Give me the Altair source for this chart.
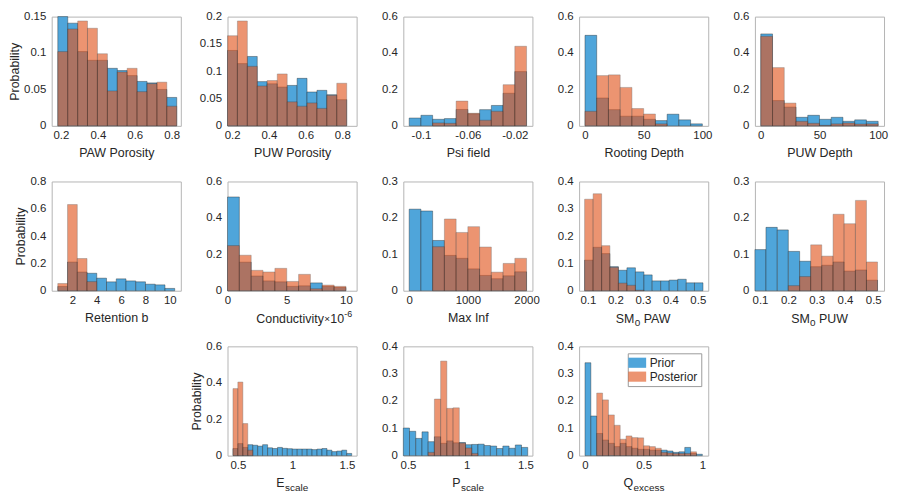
import altair as alt
import pandas as pd

FONTE = "Liberation Sans, Arial, Helvetica, sans-serif"
COR_TEXTO = "#262626"
COR_EIXO = "#b4b4b4"
LARGURA = 130
ALTURA = 110

series = ["Prior", "Posterior"]
cores = ["#4fa5da", "#e2561f"]
opacidades = [1.0, 0.63]

# PAW Porosity
paw_bordas = [0.183, 0.237, 0.291, 0.344, 0.398, 0.452, 0.506, 0.559, 0.613, 0.667, 0.721, 0.774, 0.828]
paw_prior = [0.150, 0.141, 0.102, 0.090, 0.090, 0.079, 0.076, 0.069, 0.061, 0.059, 0.050, 0.039]
paw_post = [0.102, 0.133, 0.144, 0.134, 0.099, 0.048, 0.074, 0.079, 0.047, 0.058, 0.060, 0.027]

# PUW Porosity
puw_bordas = [0.175, 0.229, 0.283, 0.337, 0.391, 0.446, 0.500, 0.554, 0.608, 0.662, 0.716, 0.770, 0.824]
puw_prior = [0.138, 0.114, 0.127, 0.081, 0.077, 0.071, 0.074, 0.087, 0.062, 0.065, 0.057, 0.048]
puw_post = [0.165, 0.192, 0.109, 0.073, 0.083, 0.095, 0.044, 0.036, 0.042, 0.032, 0.056, 0.078]

# Psi field
psi_bordas = [-0.11, -0.10, -0.09, -0.08, -0.07, -0.06, -0.05, -0.04, -0.03, -0.02, -0.01]
psi_prior = [0.043, 0.058, 0.036, 0.040, 0.090, 0.066, 0.089, 0.112, 0.179, 0.298]
psi_post = [0.0, 0.0, 0.016, 0.014, 0.136, 0.069, 0.031, 0.080, 0.226, 0.437]

# Rooting Depth
raiz_bordas = [0, 10, 20, 30, 40, 50, 60, 70, 80, 90, 100]
raiz_prior = [0.497, 0.153, 0.089, 0.053, 0.053, 0.036, 0.029, 0.064, 0.033, 0.011]
raiz_post = [0.080, 0.276, 0.280, 0.211, 0.095, 0.065, 0.011, 0.0, 0.0, 0.0]

# PUW Depth
prof_bordas = [0, 10, 20, 30, 40, 50, 60, 70, 80, 90, 100]
prof_prior = [0.505, 0.139, 0.103, 0.047, 0.058, 0.036, 0.047, 0.025, 0.033, 0.025]
prof_post = [0.492, 0.320, 0.125, 0.025, 0.014, 0.003, 0.011, 0.016, 0.010, 0.011]

# Retention b
ret_bordas = [0.8, 1.6, 2.4, 3.2, 4.0, 4.8, 5.6, 6.4, 7.2, 8.0, 8.8, 9.6, 10.4]
ret_prior = [0.031, 0.210, 0.137, 0.128, 0.092, 0.065, 0.087, 0.072, 0.065, 0.048, 0.043, 0.017]
ret_post = [0.053, 0.631, 0.236, 0.067, 0.0, 0.0, 0.0, 0.0, 0.0, 0.0, 0.0, 0.0]

# Conductivity (x 1e-6)
cond_bordas = [0, 1, 2, 3, 4, 5, 6, 7, 8, 9, 10]
cond_prior = [0.515, 0.157, 0.081, 0.054, 0.049, 0.024, 0.027, 0.043, 0.024, 0.018]
cond_post = [0.248, 0.195, 0.112, 0.103, 0.123, 0.051, 0.090, 0.011, 0.031, 0.024]

# Max Inf
inf_bordas = [0, 200, 400, 600, 800, 1000, 1200, 1400, 1600, 1800, 2000]
inf_prior = [0.224, 0.219, 0.138, 0.097, 0.089, 0.060, 0.042, 0.033, 0.041, 0.052]
inf_post = [0.0, 0.0, 0.121, 0.197, 0.160, 0.176, 0.120, 0.051, 0.075, 0.089]

# SM0 PAW
smpaw_bordas = [0.088, 0.119, 0.150, 0.180, 0.211, 0.242, 0.273, 0.304, 0.334, 0.365, 0.396, 0.427, 0.458, 0.488, 0.519]
smpaw_prior = [0.112, 0.159, 0.136, 0.088, 0.075, 0.084, 0.069, 0.058, 0.036, 0.036, 0.039, 0.042, 0.029, 0.029]
smpaw_post = [0.335, 0.355, 0.165, 0.086, 0.028, 0.020, 0.002, 0.0, 0.0, 0.0, 0.0, 0.0, 0.0, 0.0]

# SM0 PUW
smpuw_bordas = [0.082, 0.121, 0.161, 0.200, 0.240, 0.279, 0.318, 0.358, 0.397, 0.437, 0.476, 0.515]
smpuw_prior = [0.113, 0.174, 0.167, 0.108, 0.081, 0.066, 0.070, 0.079, 0.054, 0.057, 0.029]
smpuw_post = [0.0, 0.0, 0.0, 0.014, 0.039, 0.126, 0.095, 0.210, 0.184, 0.248, 0.079]

# E scale
esc_bordas = [0.455, 0.500, 0.546, 0.591, 0.637, 0.682, 0.727, 0.773, 0.818, 0.864, 0.909, 0.954, 1.000,
              1.045, 1.091, 1.136, 1.181, 1.227, 1.272, 1.318, 1.363, 1.408, 1.454, 1.499, 1.545]
esc_prior = [0.039, 0.066, 0.045, 0.060, 0.057, 0.052, 0.060, 0.043, 0.039, 0.045, 0.040, 0.038, 0.036,
             0.036, 0.036, 0.036, 0.033, 0.036, 0.039, 0.030, 0.022, 0.025, 0.030, 0.012]
esc_post = [0.368, 0.404, 0.176, 0.030, 0.0, 0.0, 0.0, 0.0, 0.0, 0.0, 0.0, 0.0, 0.0,
            0.0, 0.0, 0.0, 0.0, 0.0, 0.0, 0.0, 0.0, 0.0, 0.0, 0.0]

# P scale
psc_bordas = [0.460, 0.513, 0.566, 0.619, 0.672, 0.725, 0.778, 0.831, 0.884, 0.937, 0.990,
              1.043, 1.096, 1.149, 1.202, 1.255, 1.308, 1.361, 1.414, 1.467, 1.520]
psc_prior = [0.101, 0.089, 0.063, 0.087, 0.051, 0.069, 0.045, 0.054, 0.047, 0.048,
             0.040, 0.041, 0.042, 0.037, 0.035, 0.026, 0.035, 0.027, 0.039, 0.030]
psc_post = [0.0, 0.0, 0.0, 0.0, 0.012, 0.207, 0.346, 0.173, 0.175, 0.046,
            0.028, 0.008, 0.0, 0.0, 0.0, 0.0, 0.0, 0.0, 0.0, 0.0]

# Q excess
qex_bordas = [0, 0.05, 0.1, 0.15, 0.2, 0.25, 0.3, 0.35, 0.4, 0.45, 0.5,
              0.55, 0.6, 0.65, 0.7, 0.75, 0.8, 0.85, 0.9, 0.95, 1.0]
qex_prior = [0.340, 0.145, 0.081, 0.057, 0.045, 0.033, 0.045, 0.033, 0.027, 0.023,
             0.023, 0.020, 0.020, 0.020, 0.017, 0.012, 0.014, 0.030, 0.008, 0.005]
qex_post = [0.0, 0.0, 0.229, 0.204, 0.149, 0.111, 0.060, 0.072, 0.066, 0.065,
            0.036, 0.033, 0.027, 0.012, 0.010, 0.008, 0.008, 0.008, 0.014, 0.0]


def montar_tabela(bordas, prior, post):
    linhas = []
    for nome, valores in (("Prior", prior), ("Posterior", post)):
        for i, v in enumerate(valores):
            if v > 0:
                linhas.append({"serie": nome, "lo": bordas[i], "hi": bordas[i + 1], "p": v})
    return pd.DataFrame(linhas)


def texto(t, x, y, tamanho, alinhar):
    return alt.Chart(pd.DataFrame({"t": [t]})).mark_text(
        font=FONTE, fontSize=tamanho, color=COR_TEXTO, align=alinhar, baseline="alphabetic"
    ).encode(text="t:N", x=alt.value(x), y=alt.value(y))


def gerar_painel(bordas, prior, post, dom_x, ticks_x, dom_y, ticks_y,
                 titulo_x=None, partes=None, probabilidade=False, legenda=False):
    df = montar_tabela(bordas, prior, post)

    eixo_x = alt.Axis(values=ticks_x, labelExpr="'' + datum.value", title=titulo_x if titulo_x else None)
    eixo_y = alt.Axis(values=ticks_y, labelExpr="'' + datum.value",
                      title="Probability" if probabilidade else None)

    if legenda:
        leg = alt.Legend(
            title=None, orient="top-right", offset=7, padding=3,
            fillColor="white", strokeColor="#9a9a9a",
            labelFont=FONTE, labelFontSize=12, labelColor=COR_TEXTO, labelOffset=6,
            symbolType="M-1.5,-0.85H1.5V0.85H-1.5Z", symbolSize=144,
            symbolStrokeColor="#333333", symbolStrokeWidth=0.5, rowPadding=1
        )
    else:
        leg = None

    barras = alt.Chart(df).mark_rect(
        stroke="#202020", strokeWidth=0.7, strokeOpacity=0.55
    ).encode(
        x=alt.X("lo:Q", scale=alt.Scale(domain=dom_x, nice=False, zero=False), axis=eixo_x),
        x2="hi:Q",
        y=alt.Y("p:Q", scale=alt.Scale(domain=dom_y, nice=False), axis=eixo_y),
        y2=alt.datum(0),
        color=alt.Color("serie:N", scale=alt.Scale(domain=series, range=cores), legend=leg),
        opacity=alt.Opacity("serie:N", scale=alt.Scale(domain=series, range=opacidades), legend=leg)
    )

    if partes:
        camadas = [barras] + [texto(t, x, ALTURA + dy, tam, al) for t, x, dy, tam, al in partes]
        return alt.layer(*camadas).properties(width=LARGURA, height=ALTURA)
    return barras.properties(width=LARGURA, height=ALTURA)


def vazio():
    return alt.Chart(pd.DataFrame({"v": [0]})).mark_point(opacity=0).encode(
        x=alt.X("v:Q", axis=None), y=alt.Y("v:Q", axis=None)
    ).properties(width=LARGURA, height=ALTURA, view=alt.ViewBackground(strokeOpacity=0))


paineis = [
    gerar_painel(paw_bordas, paw_prior, paw_post, [0.15, 0.85], [0.2, 0.4, 0.6, 0.8],
                 [0, 0.15], [0, 0.05, 0.1, 0.15], "PAW Porosity", probabilidade=True),
    gerar_painel(puw_bordas, puw_prior, puw_post, [0.175, 0.878], [0.2, 0.4, 0.6, 0.8],
                 [0, 0.2], [0, 0.05, 0.1, 0.15, 0.2], "PUW Porosity"),
    gerar_painel(psi_bordas, psi_prior, psi_post, [-0.115, -0.005], [-0.1, -0.06, -0.02],
                 [0, 0.6], [0, 0.2, 0.4, 0.6], "Psi field"),
    gerar_painel(raiz_bordas, raiz_prior, raiz_post, [-5, 105], [0, 50, 100],
                 [0, 0.6], [0, 0.2, 0.4, 0.6], "Rooting Depth"),
    gerar_painel(prof_bordas, prof_prior, prof_post, [-5, 105], [0, 50, 100],
                 [0, 0.6], [0, 0.2, 0.4, 0.6], "PUW Depth"),

    gerar_painel(ret_bordas, ret_prior, ret_post, [0.3, 10.9], [2, 4, 6, 8, 10],
                 [0, 0.8], [0, 0.2, 0.4, 0.6, 0.8], "Retention b", probabilidade=True),
    gerar_painel(cond_bordas, cond_prior, cond_post, [0, 10.9], [0, 5, 10],
                 [0, 0.6], [0, 0.2, 0.4, 0.6],
                 partes=[("Conductivity", 29, 32, 12.5, "left"), ("\u00d7", 97.5, 31, 10, "left"),
                         ("10", 103.5, 32, 12.5, "left"), ("-6", 117.6, 26, 9, "left")]),
    gerar_painel(inf_bordas, inf_prior, inf_post, [-100, 2100], [0, 1000, 2000],
                 [0, 0.3], [0, 0.1, 0.2, 0.3], "Max Inf"),
    gerar_painel(smpaw_bordas, smpaw_prior, smpaw_post, [0.068, 0.538], [0.1, 0.2, 0.3, 0.4, 0.5],
                 [0, 0.4], [0, 0.1, 0.2, 0.3, 0.4],
                 partes=[("SM", 55.6, 32, 12.5, "right"), ("0", 55.9, 36, 10, "left"),
                         ("PAW", 65, 32, 12.5, "left")]),
    gerar_painel(smpuw_bordas, smpuw_prior, smpuw_post, [0.082, 0.538], [0.1, 0.2, 0.3, 0.4, 0.5],
                 [0, 0.3], [0, 0.1, 0.2, 0.3],
                 partes=[("SM", 55.2, 32, 12.5, "right"), ("0", 55.5, 36, 10, "left"),
                         ("PUW", 64.6, 32, 12.5, "left")]),

    vazio(),
    gerar_painel(esc_bordas, esc_prior, esc_post, [0.405, 1.59], [0.5, 1, 1.5],
                 [0, 0.6], [0, 0.2, 0.4, 0.6], probabilidade=True,
                 partes=[("E", 57.5, 32, 12.5, "right"), ("scale", 58, 36, 10, "left")]),
    gerar_painel(psc_bordas, psc_prior, psc_post, [0.46, 1.56], [0.5, 1, 1.5],
                 [0, 0.4], [0, 0.1, 0.2, 0.3, 0.4],
                 partes=[("P", 57.5, 32, 12.5, "right"), ("scale", 58, 36, 10, "left")]),
    gerar_painel(qex_bordas, qex_prior, qex_post, [-0.05, 1.05], [0, 0.5, 1],
                 [0, 0.4], [0, 0.1, 0.2, 0.3, 0.4], legenda=True,
                 partes=[("Q", 54.3, 32, 12.5, "right"), ("excess", 54.8, 36, 10, "left")]),
    vazio(),
]

chart = alt.concat(
    *paineis, columns=5, spacing={"row": 56, "column": 47}, bounds="flush", align="all"
).resolve_scale(
    color="independent", opacity="independent"
).resolve_legend(
    color="independent", opacity="independent"
).properties(
    padding={"left": 0, "top": 0, "right": 0, "bottom": 0}
).configure_axis(
    labelFont=FONTE,
    titleFont=FONTE,
    labelColor=COR_TEXTO,
    titleColor=COR_TEXTO,
    labelFontSize=11.5,
    titleFontSize=12.5,
    titleFontWeight="normal",
    grid=False,
    ticks=False,
    tickSize=0,
    domain=False
).configure_axisX(
    labelPadding=4,
    titlePadding=5,
    labelFlush=False
).configure_axisY(
    labelPadding=6,
    titlePadding=2
).configure_view(
    stroke=COR_EIXO,
    strokeWidth=1
)

chart.save("out.html", embed_options={"renderer": "svg", "actions": False})
